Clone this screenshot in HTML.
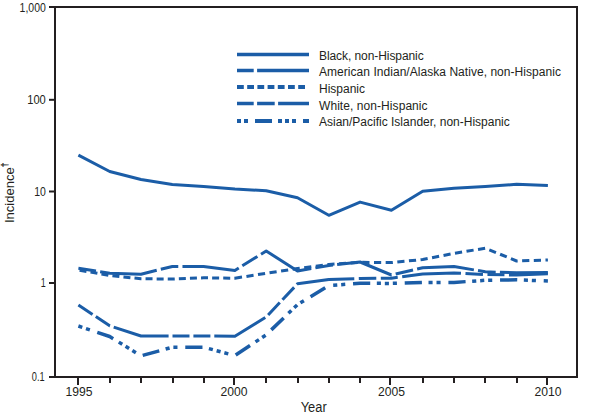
<!DOCTYPE html><html><head><meta charset="utf-8"><style>html,body{margin:0;padding:0;background:#fff;width:590px;height:414px;overflow:hidden}svg{display:block}text{font-family:"Liberation Sans",sans-serif;fill:#231f20}</style></head><body>
<svg width="590" height="414" viewBox="0 0 590 414">
<path d="M49 7H577V377H49M55 7V377" fill="none" stroke="#231f20" stroke-width="2"/>
<path d="M49 99.8H55" stroke="#231f20" stroke-width="2"/>
<path d="M49 191.5H55" stroke="#231f20" stroke-width="2"/>
<path d="M49 283H55" stroke="#231f20" stroke-width="2"/>
<path d="M78 377V385" stroke="#231f20" stroke-width="2"/>
<path d="M110 377V383" stroke="#231f20" stroke-width="2"/>
<path d="M141 377V383" stroke="#231f20" stroke-width="2"/>
<path d="M173 377V383" stroke="#231f20" stroke-width="2"/>
<path d="M204 377V383" stroke="#231f20" stroke-width="2"/>
<path d="M234 377V385" stroke="#231f20" stroke-width="2"/>
<path d="M266 377V383" stroke="#231f20" stroke-width="2"/>
<path d="M298 377V383" stroke="#231f20" stroke-width="2"/>
<path d="M329 377V383" stroke="#231f20" stroke-width="2"/>
<path d="M360 377V383" stroke="#231f20" stroke-width="2"/>
<path d="M390 377V385" stroke="#231f20" stroke-width="2"/>
<path d="M423 377V383" stroke="#231f20" stroke-width="2"/>
<path d="M454 377V383" stroke="#231f20" stroke-width="2"/>
<path d="M485 377V383" stroke="#231f20" stroke-width="2"/>
<path d="M517 377V383" stroke="#231f20" stroke-width="2"/>
<path d="M547 377V385" stroke="#231f20" stroke-width="2"/>
<text transform="translate(45.8,11.9) scale(0.82,1)" font-size="12.8" text-anchor="end">1,000</text>
<text transform="translate(45.8,103.7) scale(0.87,1)" font-size="12.8" text-anchor="end">100</text>
<text transform="translate(45.8,195.8) scale(0.82,1)" font-size="12.8" text-anchor="end">10</text>
<text transform="translate(45.8,286.8) scale(0.7,1)" font-size="12.8" text-anchor="end">1</text>
<text transform="translate(44.6,381.0) scale(0.72,1)" font-size="12.8" text-anchor="end">0.1</text>
<text transform="translate(79,396) scale(0.95,1)" font-size="12.8" text-anchor="middle">1995</text>
<text transform="translate(234,396) scale(0.95,1)" font-size="12.8" text-anchor="middle">2000</text>
<text transform="translate(391.5,396) scale(0.95,1)" font-size="12.8" text-anchor="middle">2005</text>
<text transform="translate(548,396) scale(0.95,1)" font-size="12.8" text-anchor="middle">2010</text>
<text transform="translate(313.7,411.8) scale(0.92,1)" font-size="14" text-anchor="middle">Year</text>
<text transform="translate(14,223) rotate(-90)" font-size="13">Incidence<tspan dy="-6" font-size="8.6" stroke="#231f20" stroke-width="0.3">†</tspan></text>
<polyline points="78.40,155.20 109.70,171.50 141.00,179.50 172.30,184.50 203.60,186.50 234.90,189.00 266.20,190.70 297.50,197.70 328.80,215.30 360.10,202.10 391.40,210.30 422.70,191.20 454.00,188.30 485.30,186.60 516.60,184.30 547.90,185.50" fill="none" stroke="#1b5da7" stroke-width="3.0" stroke-linejoin="round"/>
<polyline points="78.40,268.30 109.70,273.20 141.00,274.20 172.30,266.50 203.60,266.50 234.90,270.40 266.20,251.00 297.50,271.00 328.80,265.50 360.10,262.00 391.40,275.00 422.70,267.80 454.00,266.50 485.30,271.80 516.60,272.80 547.90,272.60" fill="none" stroke="#1b5da7" stroke-width="3.0" stroke-linejoin="round" stroke-dasharray="17.8 4.2 57.2 4.2" stroke-dashoffset="0.00"/>
<polyline points="78.40,270.00 109.70,275.50 141.00,278.80 172.30,279.00 203.60,277.80 234.90,278.20" fill="none" stroke="#1b5da7" stroke-width="3.0" stroke-linejoin="round" stroke-dasharray="7 4.1" stroke-dashoffset="9.90"/>
<polyline points="234.30,278.19 234.90,278.20 266.20,273.30 297.50,268.50 328.80,264.50 360.10,262.30 391.40,262.60 422.70,259.50 454.00,253.40 485.30,248.20 516.60,261.00 547.90,260.00" fill="none" stroke="#1b5da7" stroke-width="3.0" stroke-linejoin="round" stroke-dasharray="7.2 4.48" stroke-dashoffset="-0.60"/>
<polyline points="78.40,305.00 109.70,325.80 141.00,336.00 172.30,336.00 203.60,336.00 234.90,336.30 266.20,317.00 297.50,283.80 328.80,279.50" fill="none" stroke="#1b5da7" stroke-width="3.0" stroke-linejoin="round" stroke-dasharray="17 3.9 17 3.9 56.3 3.9" stroke-dashoffset="0.00"/>
<polyline points="328.21,279.58 328.80,279.50 360.10,278.50 391.40,278.20 422.70,274.00 454.00,273.00 485.30,274.50 516.60,275.00 547.90,273.80" fill="none" stroke="#1b5da7" stroke-width="3.0" stroke-linejoin="round" stroke-dasharray="17.5 4.5 17 4.5 59 4.5" stroke-dashoffset="76.40"/>
<polyline points="78.40,326.00 109.70,336.50 141.00,355.90 172.30,347.20 203.60,347.20 234.90,355.60 266.20,334.80 297.50,304.60 328.80,285.50" fill="none" stroke="#1b5da7" stroke-width="3.5" stroke-linejoin="round" stroke-dasharray="4.1 3.9 4.1 7.8 17.2 6.6 4.1 3.9 4.1 3.9 4.1 7.8 17.2 6.6" stroke-dashoffset="0.00"/>
<polyline points="328.29,285.81 328.80,285.50 360.10,283.30 391.40,283.40 422.70,282.50 454.00,282.40 485.30,280.30 516.60,279.80 547.90,281.00" fill="none" stroke="#1b5da7" stroke-width="3.5" stroke-linejoin="round" stroke-dasharray="4.1 3.9 4.1 7.8 17.2 6.6 4.1 3.9 4.1 3.9 4.1 7.8 17.2 6.6" stroke-dashoffset="90.40"/>
<path d="M237 54.5H309" stroke="#1b5da7" stroke-width="3.3"/>
<text x="319" y="60.2" font-size="12" textLength="104.7" lengthAdjust="spacing">Black, non-Hispanic</text>
<path d="M237 70.5H309" stroke="#1b5da7" stroke-width="3.3" stroke-dasharray="16.7 3.4 60 3.4"/>
<text x="319" y="76.0" font-size="12" textLength="241.9" lengthAdjust="spacing">American Indian/Alaska Native, non-Hispanic</text>
<path d="M237 87H305" stroke="#1b5da7" stroke-width="3.8" stroke-dasharray="6.8 3.4"/>
<text x="319" y="93" font-size="12">Hispanic</text>
<path d="M237 103.5H309" stroke="#1b5da7" stroke-width="3.3" stroke-dasharray="16.7 3.4 17.6 3.4 60 3.4"/>
<text x="319" y="109.5" font-size="12" textLength="108.6" lengthAdjust="spacing">White, non-Hispanic</text>
<path d="M237 121H309" stroke="#1b5da7" stroke-width="4.0" stroke-dasharray="4 3 4 7 17 6 4 3 4 3 4 7 17 6"/>
<text x="319" y="125.8" font-size="12">Asian/Pacific Islander, non-Hispanic</text>
</svg></body></html>
